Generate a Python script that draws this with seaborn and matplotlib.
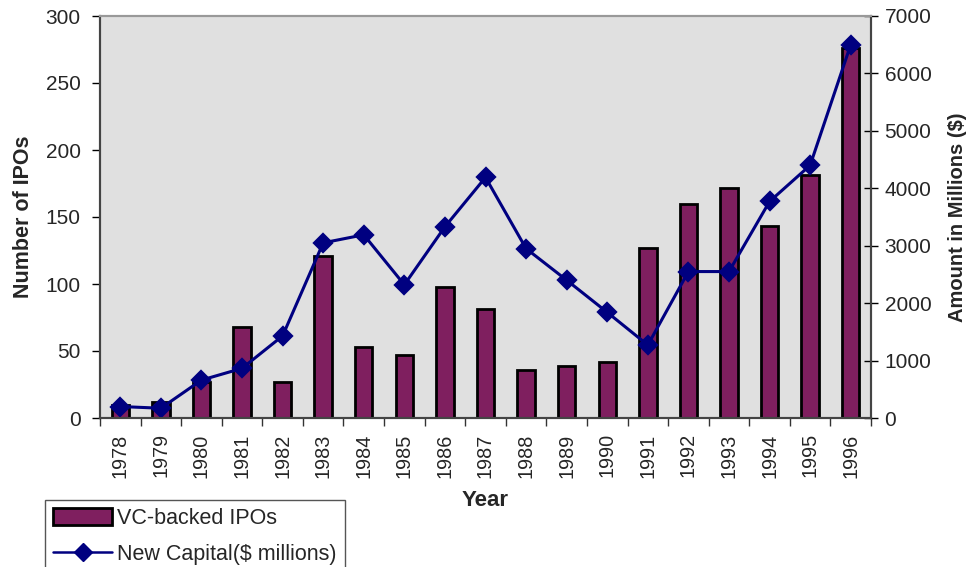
import numpy as np
import pandas as pd
import matplotlib
matplotlib.use("Agg")
import matplotlib.pyplot as plt
import seaborn as sns
from matplotlib.patches import Patch
from matplotlib.lines import Line2D

years = [str(y) for y in range(1978, 1997)]
ipos = [10, 12, 27, 68, 27, 121, 53, 47, 98, 81, 36, 39, 42, 127, 160, 172, 143, 181, 276]
capital = [200, 170, 660, 865, 1430, 3050, 3190, 2320, 3330, 4190,
           2950, 2400, 1840, 1270, 2550, 2550, 3770, 4400, 6500]

BAR = "#7F1F5F"
LINE = "#000080"

sns.set_theme(style="white")
plt.rcParams["font.family"] = ["Liberation Sans", "DejaVu Sans"]

df = pd.DataFrame({"Year": years, "IPOs": ipos, "Capital": capital})

fig = plt.figure(figsize=(9.74, 5.67), dpi=100)
ax = fig.add_axes([100/974, 1-418/567, 771/974, 402/567])
ax.set_facecolor("#E0E0E0")

sns.barplot(data=df, x="Year", y="IPOs", color=BAR, width=0.43,
            edgecolor="black", linewidth=2, saturation=1, ax=ax)

ax2 = ax.twinx()
sns.pointplot(data=df, x="Year", y="Capital", color=LINE, markers="D",
              markersize=9.5, linewidth=2.2, ax=ax2)

ax.set_xlim(-0.5, len(years) - 0.5)
ax.set_ylim(0, 300)
ax2.set_ylim(0, 7000)
ax.set_yticks(np.arange(0, 301, 50))
ax2.set_yticks(np.arange(0, 7001, 1000))

# category ticks between bars, labels centred
ax.set_xticks(np.arange(len(years)))
ax.set_xticklabels(years, rotation=90)
ax.set_xticks(np.arange(-0.5, len(years), 1), minor=True)
ax.tick_params(axis="x", which="major", length=0, labelsize=14.3, pad=11)
ax.tick_params(axis="x", which="minor", length=6, width=1, color="#333333", bottom=True)
ax.tick_params(axis="y", length=6, width=1, color="black", left=True, labelsize=15, pad=8)
ax2.tick_params(axis="y", length=9.5, width=1, color="black", right=True,
                direction="inout", labelsize=15, pad=5)

ax.set_xlabel("Year", fontsize=16, fontweight="bold", labelpad=9)
ax.set_ylabel("Number of IPOs", fontsize=15.5, fontweight="bold", labelpad=8)
ax2.set_ylabel("Amount in Millions ($)", fontsize=14.5, fontweight="bold", labelpad=12)

for a in (ax, ax2):
    for s in a.spines.values():
        s.set_color("#444444")
        s.set_linewidth(1.5)
ax.spines["top"].set_color("#999999")
ax2.spines["top"].set_color("#999999")

handles = [Patch(facecolor=BAR, edgecolor="black", linewidth=2),
           Line2D([], [], color=LINE, marker="D", markersize=9.5, linewidth=1.8)]
fig.legend(handles, ["VC-backed IPOs", "New Capital($ millions)"],
           loc="upper left", bbox_to_anchor=(45/974, 1-500/567),
           frameon=True, fancybox=False, edgecolor="#555555", framealpha=1,
           fontsize=15.5, handlelength=2.75, handleheight=0.8, borderpad=0.37,
           labelspacing=0.7, handletextpad=0.23, borderaxespad=0)

fig.savefig("out.png", dpi=100)
